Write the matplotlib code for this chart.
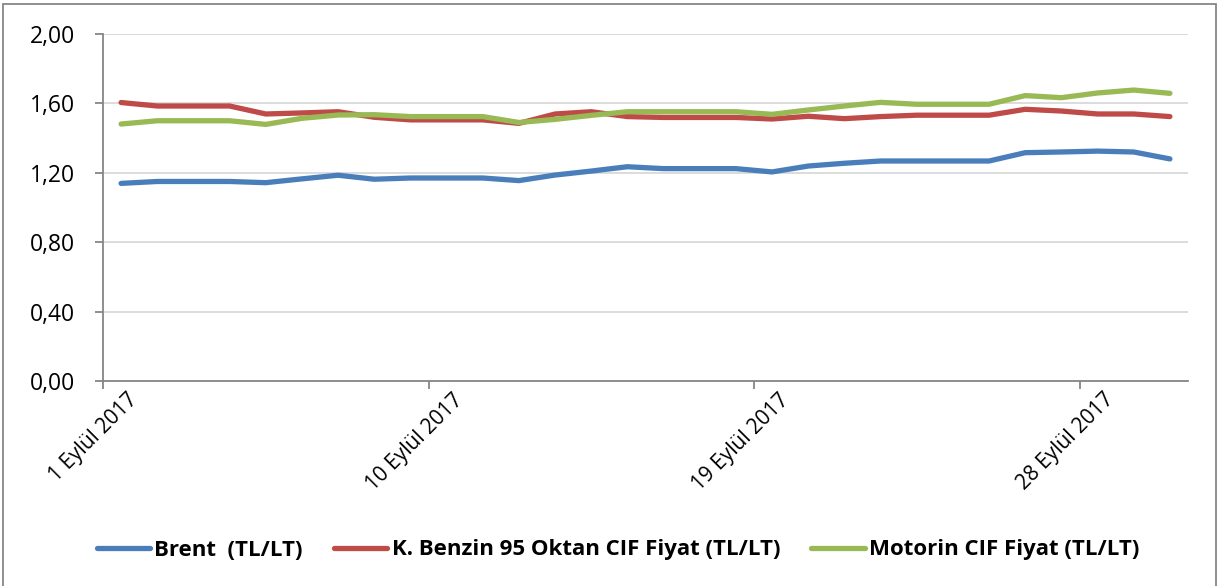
import matplotlib
matplotlib.use("Agg")
import matplotlib.pyplot as plt
from matplotlib.patches import Rectangle

days = list(range(1, 31))
tick_days = [1, 10, 19, 28]
tick_labels = ["1 Eylül 2017", "10 Eylül 2017", "19 Eylül 2017", "28 Eylül 2017"]
y_ticks = [0.0, 0.4, 0.8, 1.2, 1.6, 2.0]
y_labels = ["0,00", "0,40", "0,80", "1,20", "1,60", "2,00"]

brent = [1.139, 1.150, 1.150, 1.150, 1.143, 1.165, 1.186, 1.163, 1.170, 1.170,
         1.170, 1.155, 1.187, 1.210, 1.235, 1.224, 1.224, 1.224, 1.205, 1.239,
         1.255, 1.268, 1.268, 1.268, 1.268, 1.316, 1.320, 1.325, 1.320, 1.280]
benzin = [1.605, 1.585, 1.585, 1.585, 1.539, 1.545, 1.552, 1.520, 1.505, 1.505,
          1.505, 1.485, 1.539, 1.552, 1.524, 1.519, 1.519, 1.519, 1.510, 1.526,
          1.512, 1.524, 1.532, 1.532, 1.532, 1.566, 1.556, 1.539, 1.539, 1.524]
motorin = [1.481, 1.500, 1.500, 1.500, 1.479, 1.514, 1.533, 1.535, 1.524, 1.524,
           1.524, 1.490, 1.508, 1.531, 1.552, 1.552, 1.552, 1.552, 1.537, 1.562,
           1.585, 1.606, 1.595, 1.595, 1.595, 1.645, 1.633, 1.660, 1.677, 1.658]
series_names = ["Brent  (TL/LT)", "K. Benzin 95 Oktan CIF Fiyat (TL/LT)", "Motorin CIF Fiyat (TL/LT)"]
colors = ["#4A7EBB", "#BE4B48", "#98B954"]

W, H = 1219, 586
fig = plt.figure(figsize=(W / 100, H / 100), dpi=100)
ax = fig.add_axes([103 / W, 1 - 381 / H, (1188 - 103) / W, (381 - 34) / H])

for vals, c, n in zip([brent, benzin, motorin], colors, series_names):
    ax.plot(days, vals, color=c, lw=3.8, solid_capstyle="round", solid_joinstyle="round", label=n, zorder=3)

ax.set_xlim(0.5, 30.5)
ax.set_ylim(0, 2.0)
ax.set_yticks(y_ticks)
ax.set_yticklabels(y_labels, fontsize=16.5, family="Open Sans")
ax.yaxis.grid(True, color="#D9D9D9", lw=1.3)
ax.set_axisbelow(True)

# tick marks at slot boundaries, labels at day centres
ax.set_xticks([d - 0.5 for d in tick_days])
ax.set_xticklabels([""] * len(tick_days))
ax.set_xticks(tick_days, minor=True)
ax.set_xticklabels(tick_labels, minor=True, rotation=45, ha="right", va="top",
                   rotation_mode="anchor", fontsize=15, family="Open Sans")
ax.tick_params(axis="x", which="minor", length=0, pad=6)
ax.tick_params(axis="x", which="major", length=6, color="#868686", width=1.3)
ax.tick_params(axis="y", length=6, color="#868686", width=1.3, pad=14)
for label in ax.get_xticklabels(minor=True):
    label.set_transform(label.get_transform() + matplotlib.transforms.ScaledTranslation(0.06, 0, fig.dpi_scale_trans))

for s in ["top", "right"]:
    ax.spines[s].set_visible(False)
for s in ["left", "bottom"]:
    ax.spines[s].set_color("#868686")
    ax.spines[s].set_linewidth(1.3)

leg = fig.legend(loc="center", bbox_to_anchor=(618 / W, 1 - 550 / H), ncol=3, frameon=False,
                 prop={"family": "Open Sans", "weight": "bold", "size": 16},
                 handlelength=2.4, handletextpad=0.2, columnspacing=1.4)

fig.patches.append(Rectangle((3 / W, -0.05), (1216 - 3) / W, 1 - 4 / H + 0.05,
                             transform=fig.transFigure, fill=False, edgecolor="#868686", lw=1.3))

fig.savefig("out.png", dpi=100)
